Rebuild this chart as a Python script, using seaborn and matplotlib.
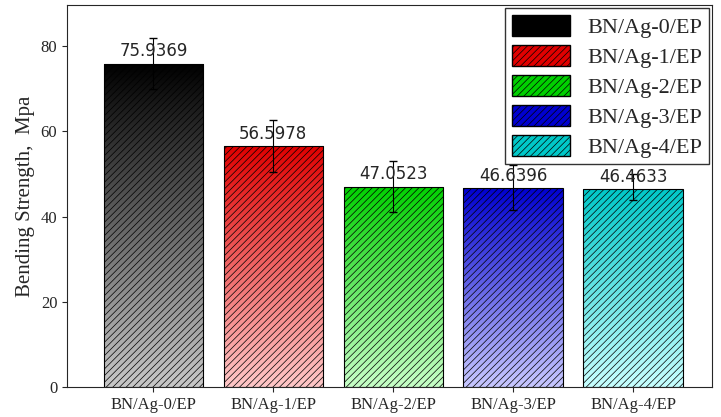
import matplotlib
matplotlib.use("Agg")
import matplotlib.pyplot as plt
import numpy as np
import pandas as pd
import seaborn as sns
from matplotlib.colors import LinearSegmentedColormap
from matplotlib.patches import Patch

labels = ["BN/Ag-0/EP", "BN/Ag-1/EP", "BN/Ag-2/EP", "BN/Ag-3/EP", "BN/Ag-4/EP"]
strength = [75.9369, 56.5978, 47.0523, 46.6396, 46.4633]
err_low = [6.0, 6.2, 6.0, 5.0, 2.5]
err_high = [6.0, 6.2, 6.0, 5.5, 3.5]
dark = ["#000000", "#e00000", "#00d000", "#0000d0", "#00c8c8"]
light = ["#c8c8c8", "#ffc8c8", "#c8ffc8", "#c8c8ff", "#c8ffff"]

sns.set_style("ticks")
plt.rcParams["font.family"] = ["Liberation Serif", "DejaVu Serif"]
plt.rcParams["hatch.linewidth"] = 0.5

df = pd.DataFrame({"label": labels, "strength": strength})
fig, ax = plt.subplots(figsize=(7.21, 4.17), dpi=100)
sns.barplot(data=df, x="label", y="strength", ax=ax, width=0.83,
            color="white", edgecolor="black", linewidth=0.8)

for i, p in enumerate(ax.patches):
    x0, y0, w, h = p.get_x(), p.get_y(), p.get_width(), p.get_height()
    cmap = LinearSegmentedColormap.from_list(f"g{i}", [light[i], dark[i]])
    grad = np.linspace(0, 1, 256).reshape(-1, 1)
    im = ax.imshow(grad, cmap=cmap, origin="lower", aspect="auto",
                   extent=[x0, x0 + w, y0, y0 + h], zorder=1.5)
    im.set_clip_path(p)
    p.set_facecolor("none")
    p.set_hatch("/////")
    p.set_zorder(2)
    p.set_edgecolor("black")
    ax.errorbar(x0 + w / 2, strength[i], yerr=[[err_low[i]], [err_high[i]]],
                color="black", capsize=3, lw=0.8, zorder=3)
    ax.text(x0 + w / 2, strength[i] + 0.8, f"{strength[i]:.4f}",
            ha="center", va="bottom", fontsize=12,
            family=["DejaVu Sans"], zorder=4)

ax.set_xlim(-0.72, 4.66)
ax.set_ylim(0, 89.7)
ax.set_yticks([0, 20, 40, 60, 80])
ax.set_xlabel("")
ax.set_ylabel("Bending Strength,  Mpa", fontsize=15)
ax.tick_params(labelsize=12)
for s in ax.spines.values():
    s.set_visible(True)
    s.set_linewidth(0.8)

handles = [Patch(facecolor=dark[i], edgecolor="black", hatch="/////", label=labels[i])
           for i in range(5)]
ax.legend(handles=handles, loc="upper right", fontsize=16, frameon=True,
          fancybox=False, edgecolor="black", handlelength=2.6, handleheight=1.1,
          labelspacing=0.3, borderaxespad=0.15, borderpad=0.3)

plt.subplots_adjust(left=0.093, right=0.988, top=0.988, bottom=0.072)
plt.savefig("out.png", dpi=100)
